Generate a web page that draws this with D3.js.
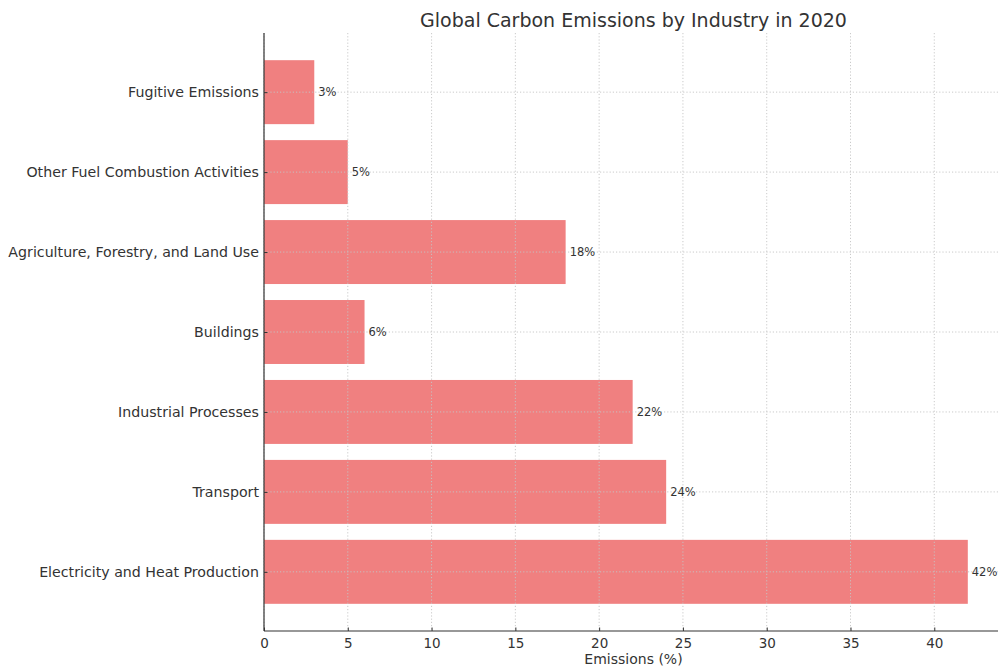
<!DOCTYPE html>
<html>
<head>
<meta charset="utf-8">
<script src="https://cdn.jsdelivr.net/npm/d3@7"></script>
<style>
  html, body { margin: 0; padding: 0; background: #fff; }
  svg { display: block; font-family: "DejaVu Sans", sans-serif; }
</style>
</head>
<body>
<svg id="chart"></svg>
<script>
// industries, bottom to top as drawn
const industries = [
  'Electricity and Heat Production',
  'Transport',
  'Industrial Processes',
  'Buildings',
  'Agriculture, Forestry, and Land Use',
  'Other Fuel Combustion Activities',
  'Fugitive Emissions'
];
const emissions = [42, 24, 22, 6, 18, 5, 3];
const xTicks = [0, 5, 10, 15, 20, 25, 30, 35, 40];

const width = 998, height = 669;
const margin = { top: 33, right: -5, bottom: 38, left: 264 };
const innerW = width - margin.left - margin.right;
const innerH = height - margin.top - margin.bottom;

const svg = d3.select('#chart')
  .attr('width', width)
  .attr('height', height);

const g = svg.append('g')
  .attr('transform', `translate(${margin.left},${margin.top})`);

const x = d3.scaleLinear()
  .domain([0, d3.max(emissions) * 1.05])
  .range([0, innerW]);

// matplotlib style: bars of 0.8 on integer positions, 5% padding
const n = industries.length;
const pad = (n - 1 + 0.8) * 0.05;
const y = d3.scaleLinear()
  .domain([-0.4 - pad, n - 1 + 0.4 + pad])
  .range([innerH, 0]);

const data = industries.map((name, i) => ({ name, value: emissions[i], i }));

// bars
g.selectAll('rect.bar')
  .data(data)
  .enter().append('rect')
  .attr('class', 'bar')
  .attr('x', x(0))
  .attr('y', d => y(d.i + 0.4))
  .attr('width', d => x(d.value) - x(0))
  .attr('height', y(0) - y(0.8))
  .attr('fill', '#f08080');

// grid on top of the bars
const grid = g.append('g').attr('class', 'grid');
grid.selectAll('line.gx')
  .data(xTicks)
  .enter().append('line')
  .attr('x1', d => x(d)).attr('x2', d => x(d))
  .attr('y1', 0).attr('y2', innerH)
  .attr('stroke', '#c4c4c4')
  .attr('stroke-width', 0.9)
  .attr('stroke-dasharray', '1.2,2');
grid.selectAll('line.gy')
  .data(data)
  .enter().append('line')
  .attr('x1', 0).attr('x2', innerW)
  .attr('y1', d => y(d.i)).attr('y2', d => y(d.i))
  .attr('stroke', '#c4c4c4')
  .attr('stroke-width', 0.9)
  .attr('stroke-dasharray', '1.2,2');

// value labels
g.selectAll('text.val')
  .data(data)
  .enter().append('text')
  .attr('class', 'val')
  .attr('x', d => x(d.value) + 4)
  .attr('y', d => y(d.i))
  .attr('dy', '0.35em')
  .attr('font-size', 11.5)
  .attr('fill', '#333')
  .text(d => d.value + '%');

// axes
const xAxis = d3.axisBottom(x)
  .tickValues(xTicks)
  .tickSize(-3.5)
  .tickPadding(7);
g.append('g')
  .attr('transform', `translate(0,${innerH})`)
  .call(xAxis)
  .call(s => s.select('.domain').remove())
  .call(s => s.selectAll('text').attr('font-size', 13.5).attr('fill', '#333')
    .attr('font-family', '"DejaVu Sans", sans-serif'))
  .call(s => s.selectAll('line').attr('stroke', '#333'));

const yAxis = d3.axisLeft(y)
  .tickValues(d3.range(n))
  .tickFormat(i => industries[i])
  .tickSize(-3.5)
  .tickPadding(5);
g.append('g')
  .call(yAxis)
  .call(s => s.select('.domain').remove())
  .call(s => s.selectAll('text').attr('font-size', 14.2).attr('fill', '#333')
    .attr('font-family', '"DejaVu Sans", sans-serif'))
  .call(s => s.selectAll('line').attr('stroke', '#333'));

// spines (left and bottom only)
g.append('line')
  .attr('x1', 0).attr('x2', 0).attr('y1', 0).attr('y2', innerH)
  .attr('stroke', '#333').attr('stroke-width', 1.2);
g.append('line')
  .attr('x1', 0).attr('x2', innerW).attr('y1', innerH).attr('y2', innerH)
  .attr('stroke', '#333').attr('stroke-width', 1.2);

// title and axis label
svg.append('text')
  .attr('x', margin.left + innerW / 2)
  .attr('y', 27)
  .attr('text-anchor', 'middle')
  .attr('font-size', 19)
  .attr('fill', '#333')
  .text('Global Carbon Emissions by Industry in 2020');

svg.append('text')
  .attr('x', margin.left + innerW / 2)
  .attr('y', 664)
  .attr('text-anchor', 'middle')
  .attr('font-size', 14)
  .attr('fill', '#333')
  .text('Emissions (%)');
</script>
</body>
</html>
